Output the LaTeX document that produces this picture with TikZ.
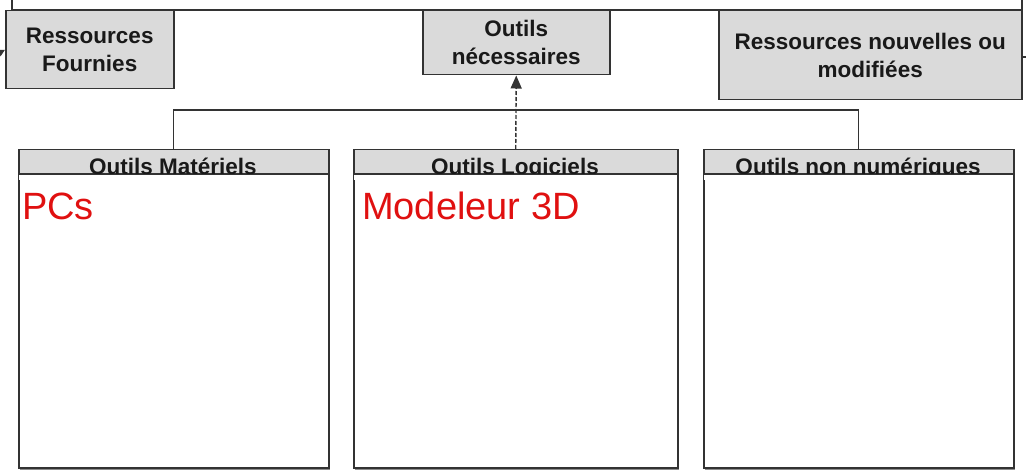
\documentclass[tikz,border=0pt]{standalone}
\usepackage{fontspec}
\setmainfont{Liberation Sans}
\usetikzlibrary{arrows.meta,shadows}
\definecolor{boxgray}{HTML}{DADADA}
\definecolor{linegray}{HTML}{333333}
\definecolor{redtxt}{HTML}{E01010}
\begin{document}
\begin{tikzpicture}[x=1pt,y=-1pt,
  frameline/.style={draw=linegray, line width=1.4pt},
  topbox/.style={draw=linegray, line width=1.5pt, fill=boxgray, align=center,
    font=\bfseries\fontsize{22.5}{28}\selectfont, text=black!90, inner sep=0pt, anchor=north west},
  hdrbox/.style={draw=linegray, line width=1.5pt, fill=boxgray, inner sep=0pt, anchor=north west,
    minimum width=#1, minimum height=24pt},
  hdrtext/.style={font=\bfseries\fontsize{22.5}{26}\selectfont, text=black!90, anchor=base, inner sep=0pt},
  bodybox/.style={draw=linegray, line width=1.5pt, fill=white, inner sep=0pt, anchor=north west,
    minimum width=#1, minimum height=294pt,
    drop shadow={shadow xshift=1.5pt, shadow yshift=-2pt, fill=black!45, opacity=1}},
  redtext/.style={font=\fontsize{38}{44}\selectfont, text=redtxt, anchor=base west, inner sep=0pt},
  conn/.style={draw=linegray, line width=1.4pt},
  dashconn/.style={draw=linegray, line width=1.4pt, dash pattern=on 4pt off 2pt,
    -{Triangle[length=13pt,width=11pt]}},
]
\useasboundingbox (0,0) rectangle (1026,473);
\clip (0,0) rectangle (1026,473);
\fill[white] (0,0) rectangle (1026,473);

% enclosing frame (cut off at the top)
\coordinate (ftl) at (12,-40);
\coordinate (fbr) at (1022,10);
\draw[frameline] (ftl) rectangle (fbr);

% top boxes
\node[topbox, minimum width=168pt, minimum height=78pt] (rf) at (5,10) {Ressources\\Fournies};
\node[topbox, minimum width=187pt, minimum height=64pt] (on) at (422,10) {Outils\\nécessaires};
\node[topbox, minimum width=303pt, minimum height=89pt] (rn) at (718,10) {Ressources nouvelles ou\\modifiées};

% stubs of outer connectors
\coordinate (lin) at (-14,60);
\draw[conn, -{Triangle[length=7pt,width=7pt]}] (lin) -- (rf.west);
\coordinate (rout) at (1040,57);
\draw[conn] (rn.east |- rout) -- (rout);

% lower boxes: Outils Materiels
\node[bodybox=310pt] (matb) at (18,173) {};
\node[hdrbox=310pt] (mat) at (18,149) {};
\node[hdrtext] at (173,175) {Outils Matériels};
\fill[white] (19,173.8) rectangle (327,180);
\draw[conn] (mat.south west) -- (mat.south east);
\node[redtext] at (22,220) {PCs};

% Outils Logiciels
\node[bodybox=324pt] (logb) at (353,173) {};
\node[hdrbox=324pt] (log) at (353,149) {};
\node[hdrtext] at (515,175) {Outils Logiciels};
\fill[white] (354,173.8) rectangle (676,180);
\draw[conn] (log.south west) -- (log.south east);
\node[redtext] at (362,220) {Modeleur 3D};

% Outils non numeriques
\node[bodybox=310pt] (nonb) at (703,173) {};
\node[hdrbox=310pt] (non) at (703,149) {};
\node[hdrtext] at (858,175) {Outils non numériques};
\fill[white] (704,173.8) rectangle (1012,180);
\draw[conn] (non.south west) -- (non.south east);

% connectors
\coordinate (bus) at (0,110);
\draw[conn] (mat.north) -- (mat.north |- bus) -- (non.north |- bus) -- (non.north);
\draw[dashconn] (log.north) -- (on.south);
\end{tikzpicture}
\end{document}
